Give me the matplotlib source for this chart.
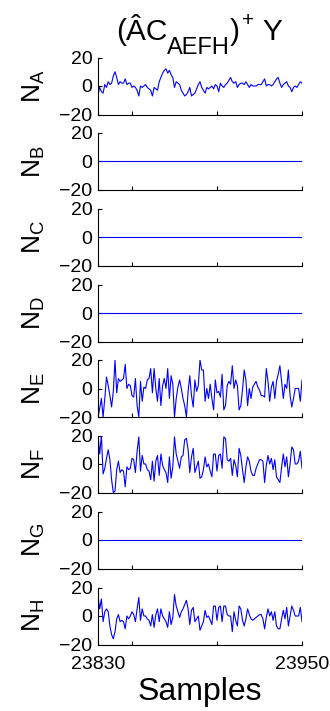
import matplotlib
matplotlib.use("Agg")
import matplotlib.pyplot as plt
from matplotlib.transforms import IdentityTransform
import numpy as np

plt.rcParams['font.family'] = 'Liberation Sans'
plt.rcParams['mathtext.fontset'] = 'custom'
plt.rcParams['mathtext.rm'] = 'Liberation Sans'
plt.rcParams['mathtext.it'] = 'Liberation Sans'
plt.rcParams['mathtext.bf'] = 'Liberation Sans:bold'

# sample range shown on the x axis
start = 23830
stop = 23950
xticks = [23830, 23850, 23900, 23950]
xticklabels = ['23830', '', '', '23950']
yticks = [-20, 0, 20]
names = ['A', 'B', 'C', 'D', 'E', 'F', 'G', 'H']

nA = [-6, -1, -4, -5, 1, -1, 3, 1, 2, 7,
      10, 6, 1, 3, 2, 2, 5, 1, 2, 2,
      -1, 0, -1, -3, -7, 0, -1, 0, 1, -1,
      -2, -3, -7, -1, -2, -3, 3, 6, 9, 11,
      12, 9, 11, 8, 6, -1, 3, 2, 1, -3,
      -5, -7, -6, -4, -1, -7, -6, -5, -2, 1,
      3, -1, -3, -5, -1, -2, -1, 0, -2, 1,
      0, -4, 2, 0, -1, 1, 2, 4, 6, 3,
      2, 3, -1, 1, 2, 2, 1, 3, 1, -1,
      1, 0, 0, 0, 1, 1, 1, 3, 5, 0,
      1, 1, 0, 1, 3, 5, 6, 2, -1, 1,
      2, 3, 0, -1, -4, -1, 0, -1, 1, 3,
      2]
nB = [0] * 121
nC = [0] * 121
nD = [0] * 121
nE = [-20, -14, -7, -20, -7, 8, 2, -5, -13, -2,
      20, -3, 7, 5, 6, 7, 17, 0, 3, 2,
      -5, -6, 7, -12, -20, 5, -9, 1, 0, 6,
      7, 14, -3, 14, 0, -9, 7, -12, 2, 7,
      0, 14, -7, 9, 3, -20, -7, 1, 6, 0,
      -7, -12, -20, -2, 9, -5, -13, 6, -2, 2,
      20, 13, 13, -9, 0, -7, 3, -7, -15, 6,
      -3, -2, -6, 10, -15, -12, 2, 5, 3, 16,
      0, 6, 2, -15, -12, -1, 13, 6, -12, 0,
      -7, 1, 3, 5, 1, -1, -5, -5, -6, 14,
      5, -9, 1, 5, -7, 5, 10, 16, 5, -7,
      3, 0, 13, -5, -13, -7, 0, 0, 0, -9,
      6]
nF = [20, 7, 20, -7, -3, 4, 10, 3, -11, -20,
      -19, -4, 2, -6, -4, -5, -16, -2, -4, -3,
      4, 3, -6, 9, 19, -5, 6, 0, 0, -4,
      -5, -11, 2, -12, 2, 6, -8, 7, -1, -4,
      -6, -13, 5, -10, -2, 19, 7, 2, -3, 5,
      6, 17, 18, 10, -6, 5, 11, -6, -2, 2,
      -10, -9, -4, 5, -2, 0, -5, -9, 7, 7,
      -5, 6, 7, -3, 19, 18, 3, 2, 4, -8,
      3, -1, -9, 11, 6, -4, -13, -2, 5, 2,
      -5, -8, -8, -3, 0, 3, 3, 2, -13, -1,
      6, 0, 4, -4, 3, -9, -11, -13, -2, 7,
      -2, 5, -9, 0, 12, 10, 0, 0, 2, 9,
      -3]
nG = [0] * 121
nH = [14, 5, 12, -4, 3, 5, 3, -7, -13, -16,
      -11, -2, 1, -4, -3, -4, -9, 0, -2, 0,
      3, 1, -4, 5, 13, -3, 5, 0, 0, -2,
      -3, -7, 1, -8, 1, 5, -4, 5, 0, -2,
      -4, -8, 3, -6, -1, 15, 7, 3, -1, 3,
      5, 8, 11, 5, -6, 4, 6, -4, -2, 0,
      -10, -7, -4, 4, -1, 0, -3, -6, 7, 7,
      -3, 6, 7, -4, 7, 7, 1, 0, 0, -11,
      3, -3, -7, 7, 5, -3, -7, -2, 5, 1,
      -2, -3, -2, -1, 0, 1, 1, -2, -9, -1,
      5, 0, 3, -3, 3, -7, -9, -9, -2, 4,
      -2, 6, -7, 0, 7, 4, 0, 0, 0, 6,
      -4]

series = [nA, nB, nC, nD, nE, nF, nG, nH]
samples = np.arange(start, stop + 1)

W, H = 330, 711
fig = plt.figure(figsize=(W / 100, H / 100), dpi=100)

left, width, height = 98, 204, 57
tops = [57.5, 133, 208.5, 284.5, 360, 435.5, 511.5, 587.5]

for i in range(len(series)):
    ax = fig.add_axes([left / W, 1 - (tops[i] + height) / H, width / W, height / H])
    ax.plot(samples, series[i], color='blue', lw=0.8)
    ax.set_xlim(start, stop)
    ax.set_ylim(-20, 20)
    ax.set_yticks(yticks)
    ax.set_xticks(xticks)
    if i == len(series) - 1:
        ax.set_xticklabels(xticklabels)
    else:
        ax.set_xticklabels([])
    ax.spines['top'].set_visible(False)
    ax.spines['right'].set_visible(False)
    for s in ['left', 'bottom']:
        ax.spines[s].set_linewidth(0.8)
    ax.tick_params(direction='in', length=3, width=0.8, labelsize=14)
    ax.tick_params(axis='y', pad=4)
    ax.tick_params(axis='x', pad=8)
    ax.set_ylabel(r'$N_{%s}$' % names[i], fontsize=19)
    ax.yaxis.set_label_coords(-0.25, 0.5)

# title built from pieces so the subscript keeps a MATLAB-like size
parts = ['(ÂC', 'AEFH', ')', '+', 'Y']
sizes = [21.5, 17, 21.5, 15, 21.5]
lift = [0, -14, 0, 13, 0]
gaps = [0, 0, 0, 2, 8]
renderer = fig.canvas.get_renderer()
pieces = []
x = 0
for p, s, d, g in zip(parts, sizes, lift, gaps):
    t = fig.text(0, 0, p, fontsize=s, ha='left', va='baseline',
                 transform=IdentityTransform())
    x += g
    pieces.append((t, x, d))
    x += t.get_window_extent(renderer).width
x0 = 199 - x / 2
base = H - 39.5
for t, px, d in pieces:
    t.set_position((x0 + px, base + d))

fig.text(200 / W, 1 - 700 / H, 'Samples', fontsize=23, ha='center', va='baseline')

fig.savefig('out.png', dpi=100)
